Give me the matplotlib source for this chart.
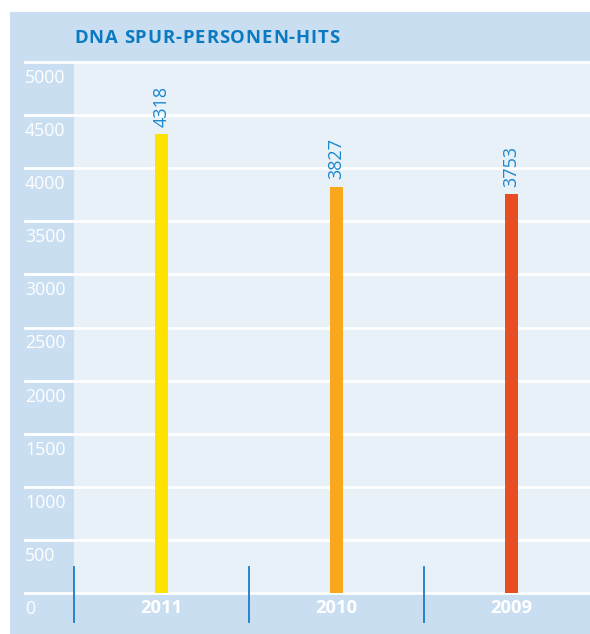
import matplotlib.pyplot as plt
from matplotlib.patches import Rectangle

years = ["2011", "2010", "2009"]
hits = [4318, 3827, 3753]
bar_colors = ["#FFE200", "#F9A81E", "#E84E24"]
y_ticks = [0, 500, 1000, 1500, 2000, 2500, 3000, 3500, 4000, 4500, 5000]
title = "DNA SPUR-PERSONEN-HITS"

W, H = 590, 634
fig = plt.figure(figsize=(W / 100, H / 100), dpi=100)
fig.patch.set_facecolor("white")

# outer light-blue panel
fig.patches.append(Rectangle((10 / W, 0), 1 - 10 / W, (H - 12) / H,
                             transform=fig.transFigure, facecolor="#C9DEF1",
                             edgecolor="none", zorder=-10))

# plot area: x 74..590 px, y 62..593 px
ax = fig.add_axes([74 / W, (H - 593) / H, (W - 74) / W, (593 - 62) / H])
ax.set_facecolor("#E8F0F8")
for s in ax.spines.values():
    s.set_visible(False)
ax.set_xticks([])
ax.set_yticks([])

x = list(range(len(years)))
ax.set_xlim(-0.5, -0.5 + (W - 74) / 175)
ax.set_ylim(0, 5000)

px_x = 1 / 175  # data units per pixel in x
grid_left = -0.5 - 49 * px_x

for v in y_ticks:
    ax.plot([grid_left, 3], [v, v], color="white", lw=2, clip_on=False, zorder=1)
    ax.annotate(str(v), (grid_left, v), xytext=(0, -11.5), textcoords="offset points",
                ha="left", va="center", color="white", fontsize=12.8,
                family="Open Sans", annotation_clip=False)

ax.bar(x, hits, width=13 * px_x, color=bar_colors, zorder=2)

for xi, h in zip(x, hits):
    ax.annotate(str(h), (xi, h), xytext=(0, 5.5), textcoords="offset points",
                ha="center", va="bottom", rotation=90, color="#1A88CF",
                fontsize=13, family="Open Sans", annotation_clip=False)

for xi, yr in zip(x, years):
    ax.annotate(yr, (xi, 0), xytext=(0, -10.5), textcoords="offset points",
                ha="center", va="center", color="white", fontsize=13.2,
                fontweight="bold", family="Open Sans", annotation_clip=False)

# separator ticks
for sx in [-0.5, 0.5, 1.5]:
    ax.plot([sx, sx], [245, -273], color="#1A7CC4", lw=1.3, clip_on=False, zorder=3)

# title with a bit of letter spacing, placed char by char
renderer = fig.canvas.get_renderer()
cx = 74.0
for ch in title:
    if ch == " ":
        cx += 5.5
        continue
    t = fig.text(cx / W, 1 - 38 / H, ch, ha="left", va="center", color="#0A7AC2",
                 fontsize=13.3, fontweight="bold", family="Open Sans")
    cx += t.get_window_extent(renderer).width + 0.9

fig.savefig("out.png", dpi=100)
